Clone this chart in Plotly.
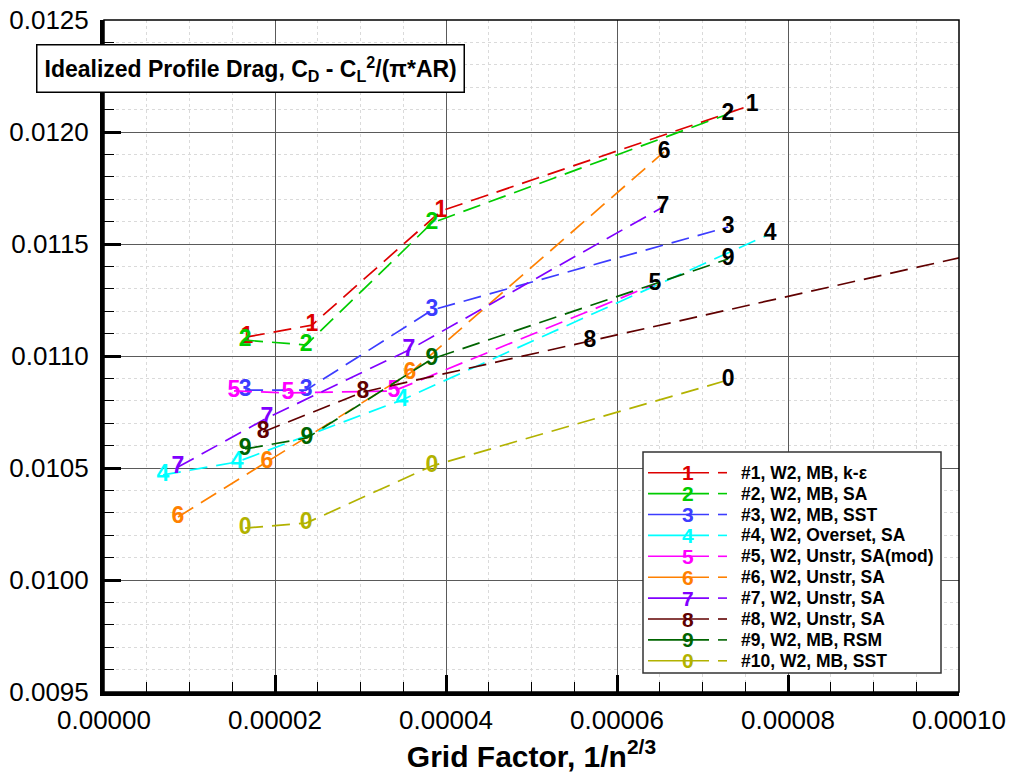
import plotly.graph_objects as go

# Grid factor (1/n^(2/3)) for each solution, finest grid first
grid_1 = [1.672e-05, 2.433e-05, 3.940e-05, 7.580e-05]
grid_2 = [1.650e-05, 2.363e-05, 3.836e-05, 7.298e-05]
grid_3 = [1.650e-05, 2.363e-05, 3.836e-05, 7.300e-05]
grid_4 = [0.690e-05, 1.556e-05, 3.485e-05, 7.790e-05]
grid_5 = [1.520e-05, 2.152e-05, 3.390e-05, 6.444e-05]
grid_6 = [0.865e-05, 1.906e-05, 3.579e-05, 6.550e-05]
grid_7 = [0.865e-05, 1.906e-05, 3.567e-05, 6.538e-05]
grid_8 = [1.860e-05, 3.029e-05, 5.684e-05, 12.00e-05]
grid_9 = [1.650e-05, 2.374e-05, 3.836e-05, 7.300e-05]
grid_0 = [1.650e-05, 2.363e-05, 3.836e-05, 7.300e-05]

# Idealized profile drag, CD - CL^2/(pi*AR)
cd_1 = [0.011085, 0.011138, 0.011647, 0.012121]
cd_2 = [0.011071, 0.011049, 0.011594, 0.012080]
cd_3 = [0.010848, 0.010848, 0.011205, 0.011576]
cd_4 = [0.010469, 0.010527, 0.010804, 0.011545]
cd_5 = [0.010844, 0.010835, 0.010844, 0.011321]
cd_6 = [0.010281, 0.010527, 0.010924, 0.011911]
cd_7 = [0.010504, 0.010723, 0.011027, 0.011665]
cd_8 = [0.010661, 0.010839, 0.011067, 0.011610]
cd_9 = [0.010585, 0.010634, 0.010987, 0.011433]
cd_0 = [0.010232, 0.010254, 0.010509, 0.010893]

symbols = ["1", "2", "3", "4", "5", "6", "7", "8", "9", "0"]
names = [
    "#1, W2, MB, k-\u03b5",
    "#2, W2, MB, SA",
    "#3, W2, MB, SST",
    "#4, W2, Overset, SA",
    "#5, W2, Unstr, SA(mod)",
    "#6, W2, Unstr, SA",
    "#7, W2, Unstr, SA",
    "#8, W2, Unstr, SA",
    "#9, W2, MB, RSM",
    "#10, W2, MB, SST",
]
colors = ["#dd0000", "#00cc00", "#3c3cff", "#00ffff", "#ff00ff",
          "#ff8000", "#8000ff", "#600000", "#006400", "#b2b200"]
# index of first point labelled in black (coarse grids)
coarse_from = [3, 3, 3, 3, 3, 3, 3, 2, 3, 3]

grids = [grid_1, grid_2, grid_3, grid_4, grid_5, grid_6, grid_7, grid_8, grid_9, grid_0]
cds = [cd_1, cd_2, cd_3, cd_4, cd_5, cd_6, cd_7, cd_8, cd_9, cd_0]

X_MAX = 0.0001
FONT = "Liberation Sans, Arial, Helvetica, sans-serif"

fig = go.Figure()
for g, c, sym, col, k in zip(grids, cds, symbols, colors, coarse_from):
    label_colors = [col if i < k else "black" for i in range(len(g))]
    # points beyond the axis range carry no label
    labels = [sym if xv <= X_MAX else "" for xv in g]
    fig.add_trace(go.Scatter(
        x=g, y=c, mode="lines+text",
        text=labels, textposition="middle center",
        textfont=dict(family=FONT, size=23, color=label_colors, weight="bold"),
        line=dict(color=col, width=1.7, dash="18px,9px"),
        showlegend=False, hoverinfo="skip", cliponaxis=True,
    ))

# plot area in pixels (for placing the legend / title box)
L, R, T, B = 104, 959, 20, 692


def px(xp):
    return (xp - L) / (R - L)


def py(yp):
    return (B - yp) / (B - T)


shapes = [
    # thin frame on top/right
    dict(type="rect", xref="paper", yref="paper", x0=0, x1=1, y0=0, y1=1,
         line=dict(color="black", width=1.5), layer="above"),
    # legend box
    dict(type="rect", xref="paper", yref="paper",
         x0=px(643), x1=px(941), y0=py(673), y1=py(452),
         line=dict(color="#333333", width=1.5), fillcolor="white", layer="above"),
]
annotations = [
    dict(xref="paper", yref="paper", x=px(250.5), y=py(69),
         text="<b>Idealized Profile Drag, C<sub>D</sub> - C<sub>L</sub><sup>2</sup>/(\u03c0*AR)</b>",
         showarrow=False, font=dict(family=FONT, size=23, color="black"),
         bgcolor="white", bordercolor="black", borderwidth=1.5, borderpad=7,
         xanchor="center", yanchor="middle"),
]

row0, drow = 472.7, 20.9
for i, (sym, col, nm) in enumerate(zip(symbols, colors, names)):
    yy = py(row0 + i * drow)
    shapes.append(dict(type="line", xref="paper", yref="paper",
                       x0=px(648), x1=px(709), y0=yy, y1=yy,
                       line=dict(color=col, width=1.6), layer="above"))
    shapes.append(dict(type="line", xref="paper", yref="paper",
                       x0=px(718), x1=px(727), y0=yy, y1=yy,
                       line=dict(color=col, width=1.6), layer="above"))
    annotations.append(dict(xref="paper", yref="paper", x=px(688), y=yy,
                            text="<b>%s</b>" % sym, showarrow=False,
                            font=dict(family=FONT, size=21, color=col),
                            xanchor="center", yanchor="middle"))
    annotations.append(dict(xref="paper", yref="paper", x=px(739), y=yy,
                            text="<b>%s</b>" % nm, showarrow=False,
                            font=dict(family=FONT, size=17.5, color="black"),
                            xanchor="left", yanchor="middle"))

axis_common = dict(
    ticks="inside", ticklen=17, tickwidth=3, tickcolor="black",
    showline=True, linewidth=4, linecolor="black", mirror=False,
    showgrid=True, gridcolor="#5a5a5a", gridwidth=1.4, zeroline=False,
    tickfont=dict(family=FONT, size=26, color="black"),
    automargin=False,
)

fig.update_xaxes(
    range=[0, X_MAX], tickmode="linear", tick0=0, dtick=0.00002,
    tickformat=".5f", ticklabelstandoff=2,
    minor=dict(dtick=0.000005, ticks="inside", ticklen=10, tickwidth=1.2,
               tickcolor="black", showgrid=True, gridcolor="#dadada",
               griddash="dot", gridwidth=1),
    title=dict(text="<b>Grid Factor, 1/n<sup>2/3</sup></b>",
               font=dict(family=FONT, size=30, color="black"), standoff=12),
    **axis_common,
)
fig.update_yaxes(
    range=[0.0095, 0.0125], tickmode="linear", tick0=0.0095, dtick=0.0005,
    tickformat=".4f", ticklabelstandoff=6,
    minor=dict(dtick=0.0001, ticks="inside", ticklen=10, tickwidth=1.2,
               tickcolor="black", showgrid=True, gridcolor="#dadada",
               griddash="dot", gridwidth=1),
    **axis_common,
)

fig.update_layout(
    width=1010, height=774,
    margin=dict(l=L, r=1010 - R, t=T, b=774 - B),
    paper_bgcolor="white", plot_bgcolor="white",
    shapes=shapes, annotations=annotations,
    showlegend=False,
)

fig.write_html("out.html")
